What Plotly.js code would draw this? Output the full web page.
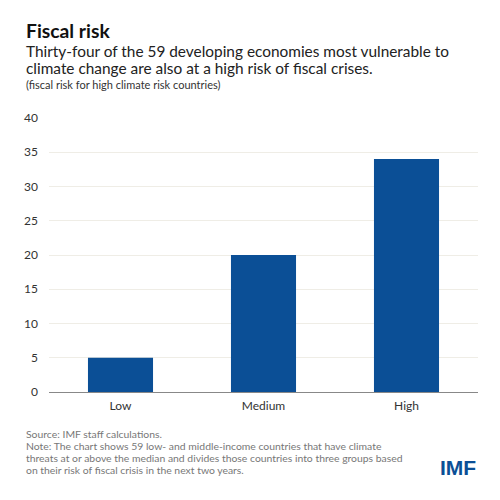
<!DOCTYPE html>
<html>
<head>
<meta charset="utf-8">
<script src="https://cdn.plot.ly/plotly-3.0.1.min.js"></script>
<style>html,body{margin:0;padding:0;background:#fff;}#chart{width:500px;height:500px;}</style>
</head>
<body>
<div id="chart"></div>
<script>
var categories = ["Low", "Medium", "High"];
var countries = [5, 20, 34];
var yTicks = [0, 5, 10, 15, 20, 25, 30, 35, 40];

var titleText = "Fiscal risk";
var subtitleLines = ["Thirty-four of the 59 developing economies most vulnerable to",
                     "climate change are also at a high risk of fiscal crises."];
var unitNote = "(fiscal risk for high climate risk countries)";
var footerLines = ["Source: IMF staff calculations.",
  "Note: The chart shows 59 low- and middle-income countries that have climate",
  "threats at or above the median and divides those countries into three groups based",
  "on their risk of fiscal crisis in the next two years."];

var L = 49, R = 478, T = 118, B = 392;
function px(x){ return (x - L) / (R - L); }
function py(y){ return (B - y) / (B - T); }
var FONT = "Lato, 'Open Sans', sans-serif";

var ann = [];
function addText(text, x, y, size, color){
  ann.push({text: text, xref: "paper", yref: "paper", x: px(x), y: py(y),
    xanchor: "left", yanchor: "middle", showarrow: false, borderpad: 0,
    font: {family: FONT, size: size, color: color}});
}
addText("<b>" + titleText + "</b>", 25, 30.5, 19.3, "#111");
addText(subtitleLines[0], 25, 51, 15.4, "#222");
addText(subtitleLines[1], 25, 68, 15.4, "#222");
addText(unitNote, 25, 84.5, 11, "#333");
var fy = [434, 446, 458, 469.5];
for (var i = 0; i < footerLines.length; i++) addText(footerLines[i], 25, fy[i], 10.4, "#777");
ann.push({text: "<b>IMF</b>", xref: "paper", yref: "paper", x: px(477), y: py(468),
  xanchor: "right", yanchor: "middle", showarrow: false, borderpad: 0,
  font: {family: "'Liberation Sans', Arial, sans-serif", size: 21, color: "#0b4f96"}});

var data = [{
  type: "bar", x: categories, y: countries,
  marker: {color: "#0b4f96"}, hoverinfo: "x+y"
}];

var layout = {
  width: 500, height: 500,
  margin: {l: L, r: 500 - R, t: T, b: 500 - B, pad: 0},
  paper_bgcolor: "#fff", plot_bgcolor: "#fff",
  showlegend: false,
  bargap: 0.545,
  font: {family: FONT, color: "#333", size: 12},
  xaxis: {
    type: "category", showline: true, linecolor: "#888", linewidth: 1,
    showgrid: false, ticks: "", tickfont: {family: FONT, size: 12, color: "#333"},
    ticklabelstandoff: 3, fixedrange: true
  },
  yaxis: {
    range: [0, 40], tickvals: yTicks, ticktext: yTicks.map(String),
    showgrid: true, gridcolor: "#efede6", gridwidth: 1,
    zeroline: false, showline: false, ticks: "",
    ticklabelstandoff: 10,
    tickfont: {family: FONT, size: 12, color: "#333"}, fixedrange: true
  },
  annotations: ann
};

Plotly.newPlot("chart", data, layout, {displayModeBar: false, staticPlot: true});
</script>
</body>
</html>
